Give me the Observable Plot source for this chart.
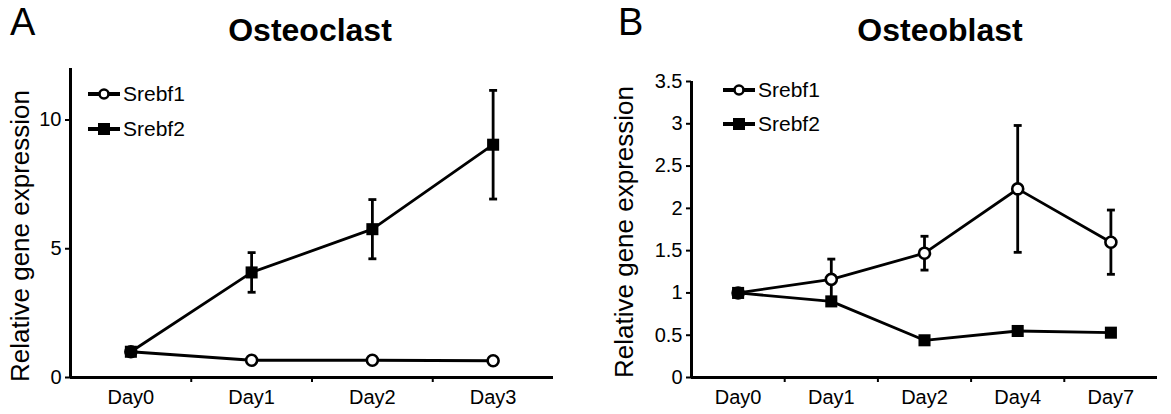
<!DOCTYPE html>
<html><head><meta charset="utf-8">
<script src="https://cdn.jsdelivr.net/npm/d3@7"></script>
<script src="https://cdn.jsdelivr.net/npm/@observablehq/plot@0.6"></script>
<style>
body{margin:0;background:#fff;font-family:"Liberation Sans",Arial,sans-serif;color:#000;}
#wrap{position:relative;width:1171px;height:414px;overflow:hidden;background:#fff;}
.abs{position:absolute;line-height:1;white-space:nowrap;}
.letter{font-size:38px;}
.title{font-size:32px;font-weight:bold;transform:translateX(-50%);}
.ylab{font-size:26px;transform:translate(-50%,-50%) rotate(-90deg);}
.leg{font-size:21px;display:flex;align-items:center;}
.leg svg{display:block;margin-right:2px;}
svg text{fill:#000;}
</style></head><body><div id="wrap"></div>
<script>
// ---- Data ----
const seriesNames = ["Srebf1", "Srebf2"];

// Panel A: Osteoclast
const daysA = ["Day0", "Day1", "Day2", "Day3"];
const aSrebf1 = [1, 0.67, 0.67, 0.65];
const aSrebf1Err = [0, 0, 0, 0];
const aSrebf2 = [1, 4.08, 5.76, 9.04];
const aSrebf2Err = [0, 0.77, 1.15, 2.11];
const yTicksA = [0, 5, 10];

// Panel B: Osteoblast
const daysB = ["Day0", "Day1", "Day2", "Day4", "Day7"];
const bSrebf1 = [1, 1.16, 1.47, 2.23, 1.6];
const bSrebf1Err = [0, 0.24, 0.2, 0.75, 0.38];
const bSrebf2 = [1, 0.9, 0.44, 0.55, 0.53];
const bSrebf2Err = [0, 0, 0, 0, 0];
const yTicksB = [0, 0.5, 1, 1.5, 2, 2.5, 3, 3.5];

// ---- Build ----
const capSymbol = {draw(ctx, size) { const w = Math.sqrt(size) / 2; ctx.moveTo(-w, 0); ctx.lineTo(w, 0); }};

function rows(days, vals, errs, series) {
  return days.map((d, i) => ({i, day: d, v: vals[i], e: errs[i], series}));
}

function panel({days, s1, e1, s2, e2, yDomain, yTicks, width, marginLeft, marginRight, marginTop, marginBottom}) {
  const r1 = rows(days, s1, e1, seriesNames[0]);
  const r2 = rows(days, s2, e2, seriesNames[1]);
  const all = [...r1, ...r2];
  const withErr = all.filter(d => d.e > 0);
  const caps = withErr.flatMap(d => [{i: d.i, y: d.v + d.e}, {i: d.i, y: d.v - d.e}]);
  const n = days.length;
  const xDomain = [-0.5, n - 0.5];
  const sw = 2.8;
  return Plot.plot({
    width, height: 414, marginLeft, marginRight, marginTop, marginBottom,
    style: {fontFamily: "'Liberation Sans', Arial, sans-serif", fontSize: "20px", background: "white", color: "black", overflow: "visible"},
    x: {domain: xDomain, axis: null},
    y: {domain: yDomain, axis: null},
    marks: [
      Plot.axisY({ticks: yTicks, tickSize: 5, tickPadding: 4, strokeWidth: 2, label: null, tickFormat: d => String(d)}),
      Plot.axisX({ticks: d3.range(n), tickSize: 0, tickPadding: 12, label: null, tickFormat: i => days[i]}),
      Plot.axisX({ticks: d3.range(1, n).map(k => k - 0.5), tickSize: 5, strokeWidth: 2, label: null, tickFormat: () => ""}),
      Plot.ruleY([yDomain[0]], {strokeWidth: 3}),
      Plot.ruleX([xDomain[0]], {strokeWidth: 3}),
      Plot.ruleX(withErr, {x: "i", y1: d => d.v - d.e, y2: d => d.v + d.e, strokeWidth: sw}),
      Plot.dot(caps, {x: "i", y: "y", symbol: capSymbol, r: 4.5, fill: "none", stroke: "black", strokeWidth: sw}),
      Plot.line(r1, {x: "i", y: "v", stroke: "black", strokeWidth: sw}),
      Plot.line(r2, {x: "i", y: "v", stroke: "black", strokeWidth: sw}),
      Plot.dot(r1, {x: "i", y: "v", r: 5.5, fill: "white", stroke: "black", strokeWidth: 2.6}),
      Plot.dot(r2, {x: "i", y: "v", symbol: "square", r: 6.8, fill: "black", stroke: "none"})
    ]
  });
}

function addText(cls, text, left, top) {
  const el = document.createElement("div");
  el.className = "abs " + cls;
  el.textContent = text;
  el.style.left = left + "px";
  el.style.top = top + "px";
  wrap.appendChild(el);
  return el;
}

function legendIcon(kind) {
  const ns = "http://www.w3.org/2000/svg";
  const s = document.createElementNS(ns, "svg");
  s.setAttribute("width", 34); s.setAttribute("height", 16);
  const l = document.createElementNS(ns, "line");
  l.setAttribute("x1", 1); l.setAttribute("x2", 33); l.setAttribute("y1", 8); l.setAttribute("y2", 8);
  l.setAttribute("stroke", "black"); l.setAttribute("stroke-width", 4);
  s.appendChild(l);
  if (kind === 0) {
    const c = document.createElementNS(ns, "circle");
    c.setAttribute("cx", 17); c.setAttribute("cy", 8); c.setAttribute("r", 4.5);
    c.setAttribute("fill", "white"); c.setAttribute("stroke", "black"); c.setAttribute("stroke-width", 2.6);
    s.appendChild(c);
  } else {
    const r = document.createElementNS(ns, "rect");
    r.setAttribute("x", 11); r.setAttribute("y", 2); r.setAttribute("width", 12); r.setAttribute("height", 12);
    r.setAttribute("fill", "black");
    s.appendChild(r);
  }
  return s;
}

function addLegend(left, tops) {
  seriesNames.forEach((name, k) => {
    const row = document.createElement("div");
    row.className = "abs leg";
    row.style.left = left + "px";
    row.style.top = tops[k] + "px";
    row.appendChild(legendIcon(k));
    const t = document.createElement("span");
    t.textContent = name;
    row.appendChild(t);
    wrap.appendChild(row);
  });
}

const wrap = document.getElementById("wrap");

const pa = panel({days: daysA, s1: aSrebf1, e1: aSrebf1Err, s2: aSrebf2, e2: aSrebf2Err,
  yDomain: [0, 12], yTicks: yTicksA, width: 585, marginLeft: 70, marginRight: 32, marginTop: 68, marginBottom: 37});
pa.style.position = "absolute"; pa.style.left = "0px"; pa.style.top = "0px";
wrap.appendChild(pa);

const pb = panel({days: daysB, s1: bSrebf1, e1: bSrebf1Err, s2: bSrebf2, e2: bSrebf2Err,
  yDomain: [0, 3.5], yTicks: yTicksB, width: 586, marginLeft: 106, marginRight: 14, marginTop: 81, marginBottom: 37});
pb.style.position = "absolute"; pb.style.left = "585px"; pb.style.top = "0px";
wrap.appendChild(pb);

addText("letter", "A", 10, 3);
addText("letter", "B", 618, 3);
addText("title", "Osteoclast", 310, 14);
addText("title", "Osteoblast", 940, 14);
addText("ylab", "Relative gene expression", 20, 236);
addText("ylab", "Relative gene expression", 624, 232);
addLegend(87, [83, 118]);
addLegend(722, [79, 113]);
</script></body></html>
